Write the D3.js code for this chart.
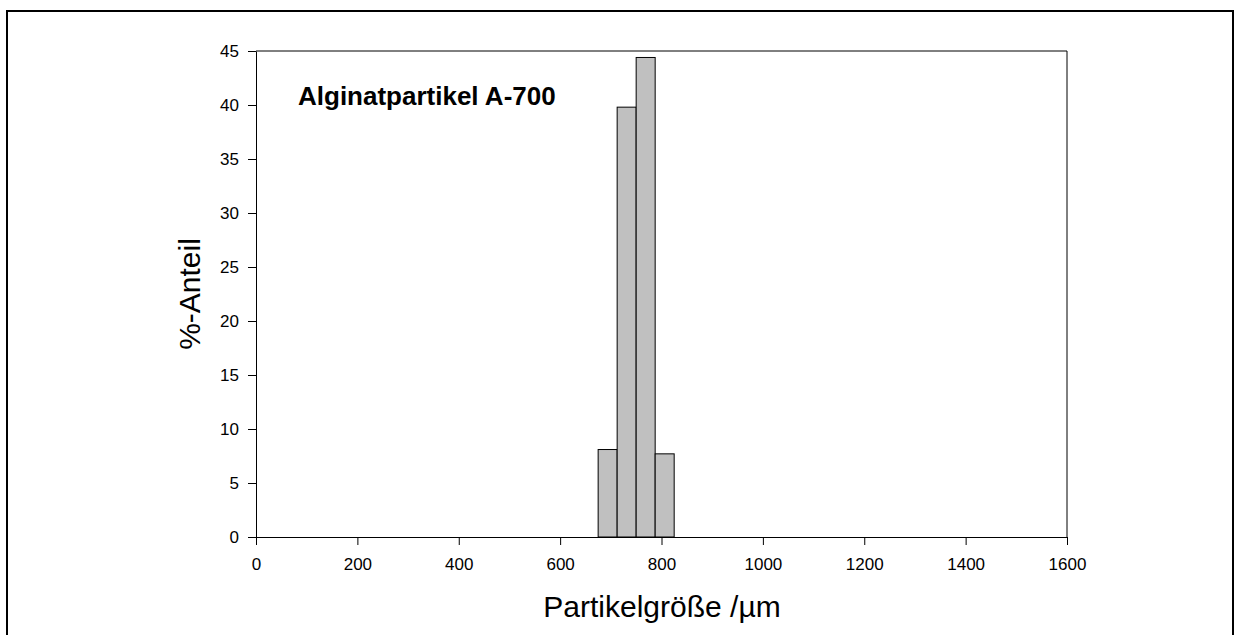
<!DOCTYPE html>
<html><head><meta charset="utf-8">
<script src="https://cdn.jsdelivr.net/npm/d3@7"></script>
<style>body{margin:0;background:#fff;} text{font-family:Arial,"Liberation Sans",sans-serif;}</style>
</head><body><svg id="c" width="1236" height="635"></svg>
<script>
const binStarts = [675, 712.5, 750, 787.5];
const binWidth = 37.5;
const values = [8.1, 39.8, 44.4, 7.7];
const xTicks = [0,200,400,600,800,1000,1200,1400,1600];
const yTicks = [0,5,10,15,20,25,30,35,40,45];
const title = "Alginatpartikel A-700";
const xLabel = "Partikelgröße /µm";
const yLabel = "%-Anteil";

const svg = d3.select("#c");
const L=256, R=1067, T=51, B=537;
const x = d3.scaleLinear().domain([0,1600]).range([L,R]);
const y = d3.scaleLinear().domain([0,45]).range([B,T]);

// outer frame
svg.append("rect").attr("x",7).attr("y",11).attr("width",1226).attr("height",640)
  .attr("fill","none").attr("stroke","#000").attr("stroke-width",2);

// plot frame
svg.append("path").attr("d",`M${L},${T}H${R}V${B}`).attr("fill","none").attr("stroke","#000").attr("stroke-width",1);

// bars
svg.append("g").selectAll("rect").data(values).join("rect")
  .attr("x",(d,i)=>x(binStarts[i]))
  .attr("width",(d,i)=>x(binStarts[i]+binWidth)-x(binStarts[i]))
  .attr("y",d=>y(d)).attr("height",d=>y(0)-y(d))
  .attr("fill","#c0c0c0").attr("stroke","#000").attr("stroke-width",1);

const xa = svg.append("g").attr("transform",`translate(0,${B})`)
  .call(d3.axisBottom(x).tickValues(xTicks).tickSize(8).tickSizeOuter(0).tickFormat(d3.format("d")));
const ya = svg.append("g").attr("transform",`translate(${L},0)`)
  .call(d3.axisLeft(y).tickValues(yTicks).tickSize(8).tickSizeOuter(0).tickFormat(d3.format("d")));
[xa,ya].forEach(g=>{
  g.select(".domain").attr("stroke","#000");
  g.selectAll("line").attr("stroke","#000");
  g.selectAll("text").attr("font-size",17).attr("fill","#000").style("font-family","Arial, 'Liberation Sans', sans-serif");
});
xa.selectAll("text").attr("y",21);
ya.selectAll("text").attr("x",-17);

svg.append("text").attr("x",298).attr("y",105).attr("font-size",26).attr("font-weight","bold").text(title);
svg.append("text").attr("x",662).attr("y",617).attr("text-anchor","middle").attr("font-size",30).text(xLabel);
svg.append("text").attr("transform",`translate(200,${(T+B)/2}) rotate(-90)`).attr("text-anchor","middle").attr("font-size",30).text(yLabel);
</script></body></html>
